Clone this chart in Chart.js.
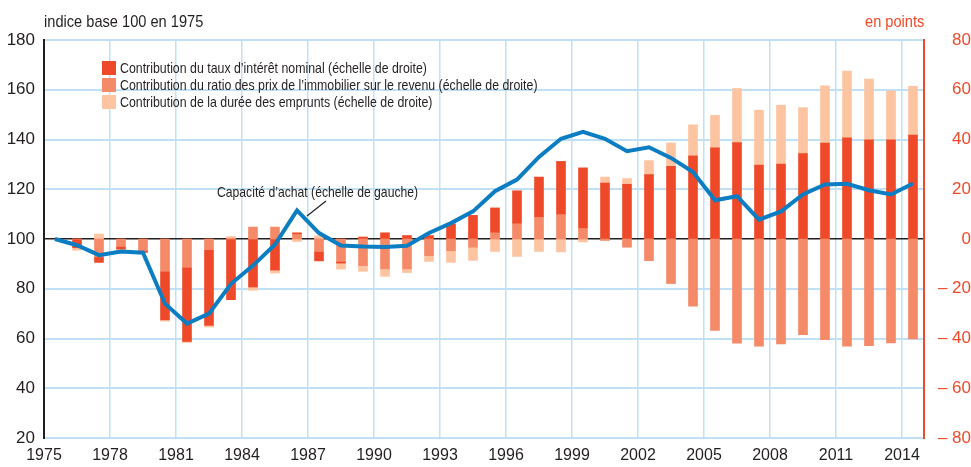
<!DOCTYPE html>
<html lang="fr">
<head>
<meta charset="utf-8">
<script src="https://cdn.jsdelivr.net/npm/chart.js@4.4.1/dist/chart.umd.min.js"></script>
<style>
  body { margin: 0; background: #fff; }
  #wrap { position: relative; width: 971px; height: 467px; font-family: 'Liberation Sans Narrow', 'Liberation Sans', sans-serif; color: #231f20; }
  #wrap canvas { position: absolute; left: 0; top: 0; }
  .txt { position: absolute; white-space: nowrap; line-height: 1; transform-origin: left center; transform: scaleX(0.86); }
  #unitLeft { left: 44px; top: 13px; font-size: 17px; }
  #unitRight { left: 865px; top: 13px; font-size: 17px; color: #ee4a2a; }
  #legend { position: absolute; left: 102px; top: 59px; font-size: 14.5px; }
  #legend .item { height: 17px; display: flex; align-items: center; white-space: nowrap; }
  #legend .sw { display: inline-block; width: 14px; height: 14px; margin-right: 4px; }
  #legend .lab { display: inline-block; transform-origin: left center; transform: scaleX(0.852); }
  #note { left: 217px; top: 185px; font-size: 14.5px; transform: scaleX(0.84); }
  #leader { position: absolute; left: 0; top: 0; pointer-events: none; }
</style>
</head>
<body>
<div id="wrap">
  <canvas id="chart" width="971" height="467"></canvas>
  <div class="txt" id="unitLeft">indice base 100 en 1975</div>
  <div class="txt" id="unitRight">en points</div>
  <div id="legend">
    <div class="item"><span class="sw" style="background:#ee4a2a"></span><span class="lab">Contribution du taux d’intérêt nominal (échelle de droite)</span></div>
    <div class="item"><span class="sw" style="background:#f48a68"></span><span class="lab">Contribution du ratio des prix de l’immobilier sur le revenu (échelle de droite)</span></div>
    <div class="item"><span class="sw" style="background:#fdc4a1"></span><span class="lab">Contribution de la durée des emprunts (échelle de droite)</span></div>
  </div>
  <div class="txt" id="note">Capacité d’achat (échelle de gauche)</div>
  <svg id="leader" width="971" height="467"><line x1="326" y1="201" x2="307" y2="216" stroke="#231f20" stroke-width="1.2"/></svg>
</div>
<script>
// annees (points places au milieu de chaque annee)
const years = [1975, 1976, 1977, 1978, 1979, 1980, 1981, 1982, 1983, 1984,
               1985, 1986, 1987, 1988, 1989, 1990, 1991, 1992, 1993, 1994,
               1995, 1996, 1997, 1998, 1999, 2000, 2001, 2002, 2003, 2004,
               2005, 2006, 2007, 2008, 2009, 2010, 2011, 2012, 2013, 2014];
const tickYears = [1975, 1978, 1981, 1984, 1987, 1990, 1993, 1996, 1999, 2002, 2005, 2008, 2011, 2014];

// capacite d'achat, indice base 100 en 1975 (echelle de gauche)
const capaciteAchat = [100, 97.5, 93.5, 95, 94.5, 74, 66, 70, 82, 89.3,
                       97.8, 111.5, 102.4, 97.4, 97, 96.8, 97.3, 102.4, 106.4, 111.1,
                       119.2, 123.9, 133, 140.3, 143.1, 140.3, 135.3, 136.9, 132.6, 126.9,
                       115.6, 117.2, 107.8, 111.1, 117.9, 121.9, 122.2, 119.6, 117.9, 122.3];

// contributions en points (echelle de droite)
const tauxNominal = [null, -3.5, -2.2, -1, -0.8, -19.5, -29.8, -30.4, -24.4, -19.3,
                     -12.5, 0.7, -3.8, -0.7, 0.8, 2.5, 1.4, 1.4, 6.1, 9.5,
                     10, 13.3, 16.2, 21.4, 24.4, 22.5, 22, 25.9, 29.2, 33.4,
                     36.7, 38.8, 29.7, 30.1, 34.3, 38.6, 40.7, 39.9, 39.9, 41.8];
const ratioPrixRevenu = [null, 0, -7.2, -3, -4.6, -13, -11.4, -4.3, 0, 4.8,
                         4.8, 1.8, -5, -9, -10.7, -12, -12, -6.7, -4.7, -3.3,
                         2.5, 6.1, 8.7, 9.8, 4.2, -0.6, -3.3, -8.7, -17.9, -27,
                         -36.8, -41.9, -43.1, -42.2, -38.5, -40.5, -43.1, -42.9, -41.8, -40.2];
const dureeEmprunts = [null, -1, 2, -0.5, 0, -0.5, -0.4, -0.7, 1, -1.3,
                       -1.2, -1, 1.3, -2.4, -2.3, -3, -1.5, -2.3, -4.7, -5.3,
                       -5, -7, -5, -5.2, -1.2, 2.4, 2.3, 5.6, 9.4, 12.5,
                       13, 21.7, 22.1, 23.7, 18.5, 23, 26.8, 24.4, 19.6, 19.6];

const RED = '#ee4a2a';
const SALMON = '#f48a68';
const PEACH = '#fdc4a1';
const BLUE = '#0b7dc2';
const GRID = '#bfe0f5';
const INK = '#231f20';
const FONT = "'Liberation Sans Narrow', 'Liberation Sans', sans-serif";

function points(values) {
    return years.map((y, i) => ({ x: y + 0.5, y: values[i] }));
}

function barSet(label, values, color) {
    return {
        type: 'bar',
        label: label,
        data: points(values),
        backgroundColor: color,
        borderWidth: 0,
        barThickness: 9,
        yAxisID: 'y2'
    };
}

const ctx = document.getElementById('chart').getContext('2d');
const chart = new Chart(ctx, {
    data: {
        datasets: [
            {
                type: 'line',
                label: 'Capacité d’achat (échelle de gauche)',
                data: points(capaciteAchat),
                borderColor: BLUE,
                borderWidth: 4,
                pointRadius: 0,
                tension: 0,
                yAxisID: 'y'
            },
            // ordre d'empilement : ratio, taux, duree
            barSet('Contribution du ratio des prix de l’immobilier sur le revenu (échelle de droite)', ratioPrixRevenu, SALMON),
            barSet('Contribution du taux d’intérêt nominal (échelle de droite)', tauxNominal, RED),
            barSet('Contribution de la durée des emprunts (échelle de droite)', dureeEmprunts, PEACH)
        ]
    },
    options: {
        responsive: false,
        animation: false,
        layout: { padding: { top: 40, left: 0, right: 0, bottom: 0 } },
        plugins: {
            legend: { display: false },
            tooltip: { enabled: false }
        },
        scales: {
            x: {
                type: 'linear',
                min: 1975,
                max: 2015,
                offset: false,
                stacked: true,
                afterBuildTicks: axis => { axis.ticks = tickYears.map(v => ({ value: v })); },
                afterFit: axis => { axis.height = 29; },
                grid: { color: GRID, lineWidth: 1.5, drawTicks: false, offset: false },
                border: { color: GRID, width: 2 },
                ticks: {
                    color: INK,
                    font: { family: FONT, size: 16 },
                    padding: 8,
                    maxRotation: 0,
                    autoSkip: false,
                    callback: v => String(v)
                }
            },
            y: {
                position: 'left',
                min: 20,
                max: 180,
                afterFit: axis => { axis.width = 44; },
                grid: {
                    color: c => c.tick.value === 100 ? INK : GRID,
                    lineWidth: c => c.tick.value === 100 ? 1.5 : 2,
                    drawTicks: false
                },
                border: { color: INK, width: 2 },
                ticks: {
                    stepSize: 20,
                    color: INK,
                    font: { family: FONT, size: 17 },
                    padding: 9
                }
            },
            y2: {
                position: 'right',
                min: -80,
                max: 80,
                stacked: true,
                afterFit: axis => { axis.width = 47; },
                grid: { display: false, drawTicks: false },
                border: { color: RED, width: 2 },
                ticks: {
                    stepSize: 20,
                    color: RED,
                    crossAlign: 'far',
                    font: { family: FONT, size: 17 },
                    padding: 14,
                    callback: v => v < 0 ? '– ' + (-v) : String(v)
                }
            }
        }
    }
});
</script>
</body>
</html>
